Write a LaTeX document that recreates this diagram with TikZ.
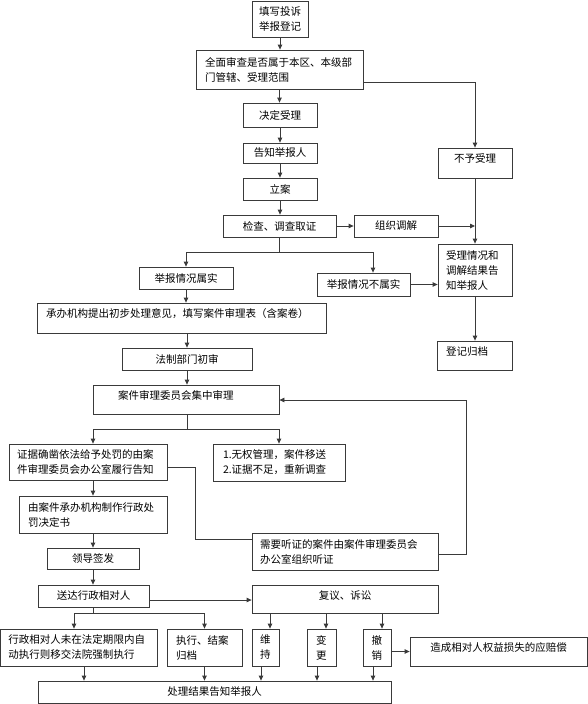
\documentclass[tikz,border=0pt]{standalone}
\usepackage{fontspec}
\newfontfamily\cjk{Noto Sans CJK SC}
\usetikzlibrary{arrows.meta}
\definecolor{linec}{HTML}{3A3A3A}
\tikzset{
  box/.style={draw=linec, line width=0.8pt, rectangle, inner sep=0pt, text=black,
    font=\cjk\fontsize{10.5}{15}\selectfont},
  lft/.style={align=left, text width=#1},
  topal/.style={text height=14.5pt, text depth=#1},
  arr/.style={draw=linec, line width=0.8pt, -{Triangle[length=5pt,width=4.5pt]}},
  ln/.style={draw=linec, line width=0.8pt},
}
\begin{document}
\begin{tikzpicture}[x=1pt,y=-1pt]
\useasboundingbox[fill=white] (0,0) rectangle (588,704);
% nodes
\node[box, minimum width=56pt, minimum height=36pt, align=center] (n1) at (280,19) {填写投诉\\举报登记};
\node[box, minimum width=167pt, minimum height=39pt, lft=149pt] (n2) at (279.5,69.5) {全面审查是否属于本区、本级部\\门管辖、受理范围};
\node[box, minimum width=74pt, minimum height=24pt] (n3) at (280,115) {决定受理};
\node[box, minimum width=74pt, minimum height=20pt] (n4) at (280,153) {告知举报人};
\node[box, minimum width=74pt, minimum height=22pt] (n5) at (280,189) {立案};
\node[box, minimum width=113pt, minimum height=22pt] (n6) at (279.5,226) {检查、调查取证};
\node[box, minimum width=84pt, minimum height=22pt] (n7) at (396,226) {组织调解};
\node[box, minimum width=74pt, minimum height=30pt, topal=15.5pt] (n8) at (475,163) {不予受理};
\node[box, minimum width=74pt, minimum height=52pt, lft=58pt] (n9) at (475,270) {受理情况和\\调解结果告\\知举报人};
\node[box, minimum width=75pt, minimum height=29pt, lft=57pt, topal=14.5pt] (n10) at (474.5,355.5) {登记归档};
\node[box, minimum width=94pt, minimum height=22pt] (n11) at (186,278) {举报情况属实};
\node[box, minimum width=93pt, minimum height=23pt] (n12) at (363.5,284.5) {举报情况不属实};
\node[box, minimum width=289pt, minimum height=30pt, lft=271pt, topal=15.5pt] (n13) at (181.5,318) {承办机构提出初步处理意见，填写案件审理表（含案卷）};
\node[box, minimum width=130pt, minimum height=22pt] (n14) at (187,359) {法制部门初审};
\node[box, minimum width=186pt, minimum height=29pt, lft=136pt, topal=14.5pt] (n15) at (186,399.5) {案件审理委员会集中审理};
\node[box, minimum width=158pt, minimum height=36pt, lft=142pt] (n16) at (88,462) {证据确凿依法给予处罚的由案\\件审理委员会办公室履行告知};
\node[box, minimum width=132pt, minimum height=37pt, lft=112pt] (n17) at (279,462.5) {1.无权管理，案件移送\\2.证据不足，重新调查};
\node[box, minimum width=148pt, minimum height=37pt, lft=130pt] (n18) at (93,514.5) {由案件承办机构制作行政处\\罚决定书};
\node[box, minimum width=186pt, minimum height=37pt, lft=170pt] (n19) at (345,551.5) {需要听证的案件由案件审理委员会\\办公室组织听证};
\node[box, minimum width=92pt, minimum height=21pt] (n20) at (93,558.5) {领导签发};
\node[box, minimum width=111pt, minimum height=22pt] (n21) at (93.5,596) {送达行政相对人};
\node[box, minimum width=186pt, minimum height=28pt, topal=13.5pt] (n22) at (345,599) {复议、诉讼};
\node[box, minimum width=157pt, minimum height=37pt, lft=141pt] (n23) at (79,647.5) {行政相对人未在法定期限内自\\动执行则移交法院强制执行};
\node[box, minimum width=75pt, minimum height=37pt, lft=57pt] (n24) at (204.5,647.5) {执行、结案\\归档};
\node[box, minimum width=27pt, minimum height=37pt, lft=11pt] (n25) at (265.5,647.5) {维\\持};
\node[box, minimum width=29pt, minimum height=37pt, lft=11pt] (n26) at (321.5,647.5) {变\\更};
\node[box, minimum width=28pt, minimum height=37pt, lft=11pt] (n27) at (377,647.5) {撤\\销};
\node[box, minimum width=177pt, minimum height=29pt, topal=14.5pt] (n28) at (498.5,651.5) {造成相对人权益损失的应赔偿};
\node[box, minimum width=353pt, minimum height=22pt] (n29) at (214.5,692) {处理结果告知举报人};
% helper coordinates
\coordinate (c1) at (475,82);
\coordinate (s1) at (279.5,252);
\coordinate (s2) at (187,429);
\coordinate (s3) at (93,613);
\coordinate (b1) at (195,539);
\coordinate (b2) at (466,400);
\coordinate (t25) at ([xshift=4.5pt]n25.north);
\coordinate (t26) at ([xshift=4.5pt]n26.north);
\coordinate (t27) at ([xshift=5pt]n27.north);
\coordinate (u23) at ([xshift=5pt]n23.south);
\coordinate (u25) at ([xshift=-4.5pt]n25.south);
\coordinate (u26) at ([xshift=-4.5pt]n26.south);
\coordinate (u27) at ([xshift=-4pt]n27.south);
% connectors
\draw[arr] (n1.south) -- (n1.south |- n2.north);
\draw[arr] (n2.south) -- (n2.south |- n3.north);
\draw[arr] (n3) -- (n4);
\draw[arr] (n4) -- (n5);
\draw[arr] (n5.south) -- (n5.south |- n6.north);
\draw[arr] (n6) -- (n7);
\draw[arr] (n2.east |- c1) -- (c1) -- (n8.north);
\draw[arr] (n8) -- (n9);
\draw[arr] (n7.east) -- (n7.east -| n9.north);
\draw[arr] (n12.east) -- (n12.east -| n9.west);
\draw[arr] (n9.south) -- (n9.south |- n10.north);
\draw[ln] (n6.south) -- (s1);
\draw[arr] (s1) -| (n11.north);
\draw[arr] (s1) -| ([xshift=9.5pt]n12.north);
\draw[arr] (n11.south) -- (n11.south |- n13.north);
\draw[arr] (n14.north |- n13.south) -- (n14.north);
\draw[arr] (n14.south) -- (n14.south |- n15.north);
\draw[ln] (n15.south -| s2) -- (s2);
\draw[arr] (s2) -| ([xshift=5pt]n16.north);
\draw[arr] (s2) -| (n17.north);
\draw[ln] ([yshift=-5pt]n16.east) -| (b1) -- (b1 -| n19.west);
\draw[arr] ([yshift=-2.5pt]n19.east) -| (b2) -- (b2 -| n15.east);
\draw[arr] (n18.north |- n16.south) -- (n18.north);
\draw[arr] (n18) -- (n20);
\draw[arr] (n20.south) -- (n20.south |- n21.north);
\draw[arr] ([yshift=-4pt]n21.east) -- ([yshift=-4pt]n21.east -| n22.west);
\draw[ln] (n21.south -| s3) -- (s3);
\draw[arr] (s3) -| ([xshift=-5pt]n23.north);
\draw[arr] (s3) -| (n24.north);
\draw[arr] (t25 |- n22.south) -- (t25);
\draw[arr] (t26 |- n22.south) -- (t26);
\draw[arr] (t27 |- n22.south) -- (t27);
\draw[arr] (n27.east |- n28.west) -- (n28.west);
\draw[arr] (u23) -- (u23 |- n29.north);
\draw[arr] (n24.south) -- (n24.south |- n29.north);
\draw[arr] (u25) -- (u25 |- n29.north);
\draw[arr] (u26) -- (u26 |- n29.north);
\draw[arr] (u27) -- (u27 |- n29.north);
\end{tikzpicture}
\end{document}
